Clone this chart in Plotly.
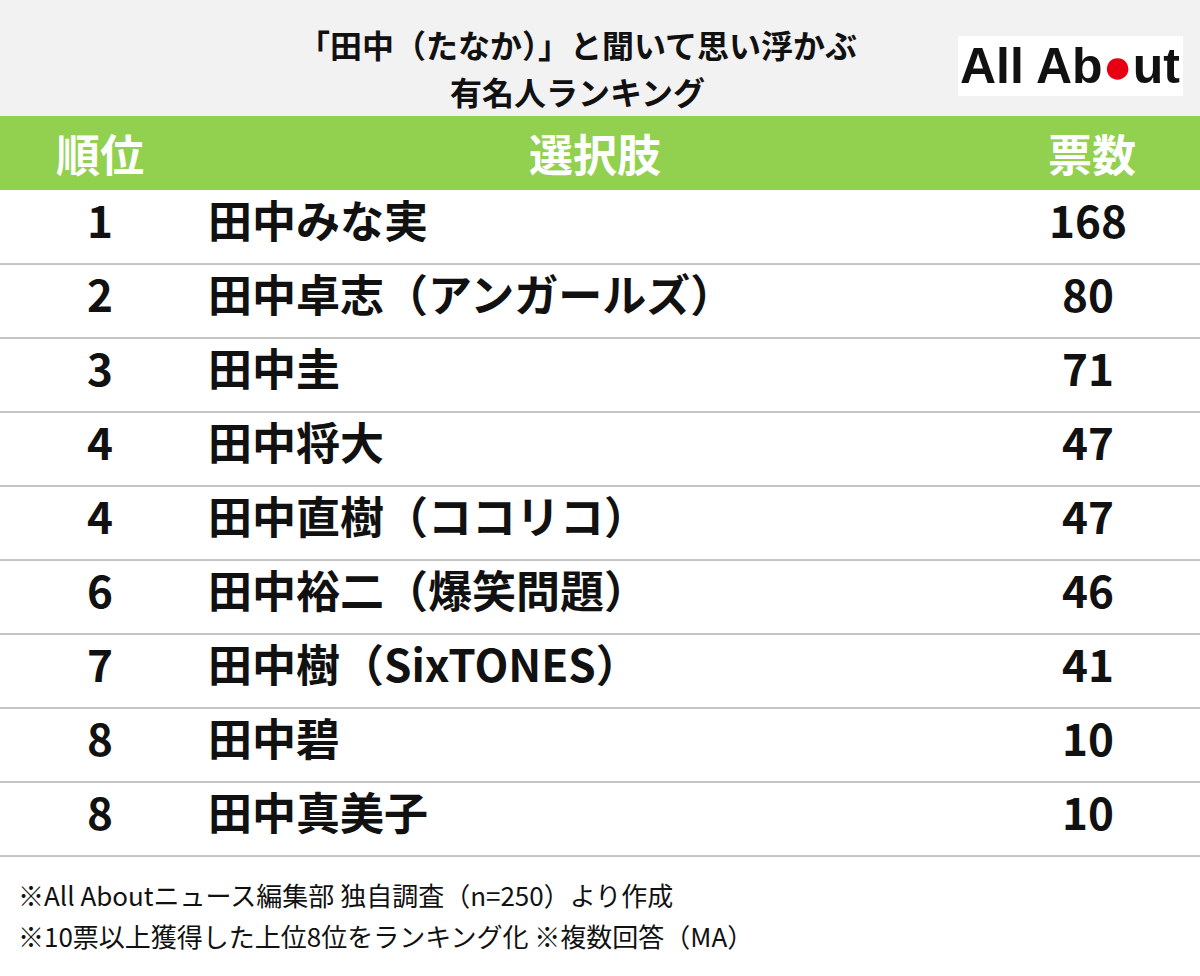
import plotly.graph_objects as go

title_lines = ["「田中（たなか）」と聞いて思い浮かぶ", "有名人ランキング"]
headers = ["順位", "選択肢", "票数"]
ranks = ["1", "2", "3", "4", "4", "6", "7", "8", "8"]
names = ["田中みな実", "田中卓志（アンガールズ）", "田中圭", "田中将大", "田中直樹（ココリコ）",
         "田中裕二（爆笑問題）", "田中樹（SixTONES）", "田中碧", "田中真美子"]
votes = [168, 80, 71, 47, 47, 46, 41, 10, 10]
notes = ["※All Aboutニュース編集部 独自調査（n=250）より作成",
         "※10票以上獲得した上位8位をランキング化 ※複数回答（MA）"]

FONT = "Noto Sans CJK JP"
W, H = 1200, 976
top, hdr_h, row_h = 116, 74, 74
first_row = top + hdr_h
ys = [first_row + row_h * (i + 0.5) for i in range(len(names))]

def b(t):
    return f"<b>{t}</b>"

fig = go.Figure()
fig.add_trace(go.Scatter(x=[100] * len(ranks), y=ys, text=[b(r) for r in ranks], mode="text",
                         textfont=dict(family=FONT, size=44, color="#111"), textposition="middle center"))
fig.add_trace(go.Scatter(x=[208] * len(names), y=ys, text=[b(n) for n in names], mode="text",
                         textfont=dict(family=FONT, size=44, color="#111"), textposition="middle right"))
fig.add_trace(go.Scatter(x=[1088] * len(votes), y=ys, text=[b(v) for v in votes], mode="text",
                         textfont=dict(family=FONT, size=44, color="#111"), textposition="middle center"))

shapes = [
    dict(type="rect", x0=0, x1=W, y0=0, y1=top, fillcolor="#f2f2f2", line_width=0, layer="below"),
    dict(type="rect", x0=0, x1=W, y0=top, y1=first_row, fillcolor="#92d050", line_width=0, layer="below"),
    dict(type="rect", x0=958, x1=1183, y0=36, y1=96, fillcolor="white", line_width=0, layer="below"),
]
for i in range(len(names)):
    y = first_row + row_h * (i + 1)
    shapes.append(dict(type="line", x0=0, x1=W, y0=y, y1=y, line=dict(color="#8c8c8c", width=1)))

ann = []
for i, t in enumerate(title_lines):
    ann.append(dict(x=577, y=44 + 47 * i, text=b(t), showarrow=False, xref="x", yref="y",
                    font=dict(family=FONT, size=32, color="#111")))
for x, t in zip([100, 595, 1092], headers):
    ann.append(dict(x=x, y=top + hdr_h / 2, text=b(t), showarrow=False, xref="x", yref="y",
                    font=dict(family=FONT, size=44, color="white")))
for i, t in enumerate(notes):
    ann.append(dict(x=16, y=894 + 41 * i, text=t, showarrow=False, xanchor="left", xref="x", yref="y",
                    font=dict(family=FONT, size=26, color="#111")))
ann.append(dict(x=1070, y=66, text="<b>All Ab<span style='color:#e60012'>●</span>ut</b>", showarrow=False,
                xref="x", yref="y", font=dict(family="Liberation Sans", size=50, color="#111")))

fig.update_layout(width=W, height=H, margin=dict(l=0, r=0, t=0, b=0), showlegend=False,
                  plot_bgcolor="white", paper_bgcolor="white", shapes=shapes, annotations=ann,
                  xaxis=dict(range=[0, W], visible=False, fixedrange=True),
                  yaxis=dict(range=[H, 0], visible=False, fixedrange=True))
fig.write_html("out.html", post_script="document.body.style.margin='0';",
               config={"displayModeBar": False})
